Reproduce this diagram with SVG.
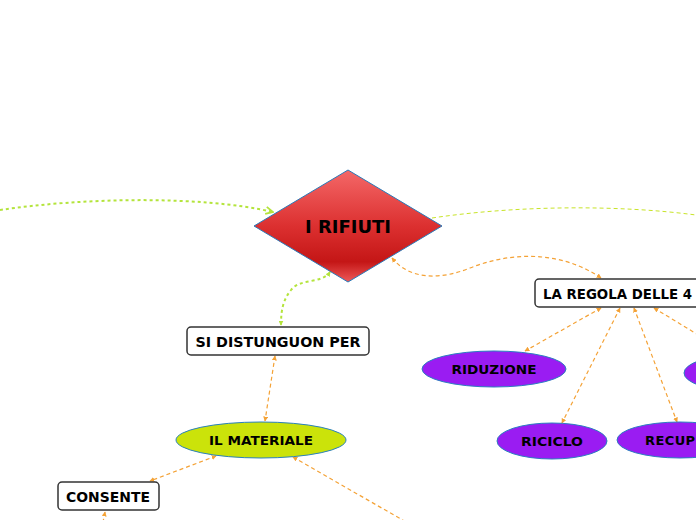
<svg xmlns="http://www.w3.org/2000/svg" width="696" height="520" viewBox="0 0 696 520">
<style>
.lbl{font-family:"DejaVu Sans","Verdana",sans-serif;font-weight:bold;fill:#000;text-anchor:middle}
.box{fill:#fff;stroke:#333;stroke-width:1.5}
.purple{fill:#9a1cf2;stroke:#2a80c0;stroke-width:1}
.og{fill:none;stroke:#f4a236;stroke-width:1.2;stroke-dasharray:4,3}
.gr{fill:none;stroke:#b4e43c;stroke-width:2;stroke-dasharray:3,3}
.grt{fill:none;stroke:#c8e428;stroke-width:1;stroke-dasharray:4,3}
</style>
<defs>
<linearGradient id="red" x1="0" y1="0" x2="0" y2="1">
<stop offset="0" stop-color="#f46868"/>
<stop offset="0.5" stop-color="#dc3030"/>
<stop offset="0.82" stop-color="#c41616"/>
<stop offset="1" stop-color="#ee5a5a"/>
</linearGradient>
<marker id="oa" viewBox="0 0 8 8" refX="7" refY="4" markerWidth="5" markerHeight="5" orient="auto-start-reverse" markerUnits="userSpaceOnUse">
<path d="M0,0 L8,4 L0,8 z" fill="#f4a236"/>
</marker>
<marker id="ga" viewBox="0 0 8 8" refX="7" refY="4" markerWidth="5" markerHeight="5" orient="auto-start-reverse" markerUnits="userSpaceOnUse">
<path d="M0,0 L8,4 L0,8 z" fill="#b4e43c"/>
</marker>
<marker id="gc" viewBox="0 0 10 10" refX="9" refY="5" markerWidth="9" markerHeight="9" orient="auto" markerUnits="userSpaceOnUse">
<path d="M1,1 L9,5 L1,9" fill="none" stroke="#b4e43c" stroke-width="2"/>
</marker>
</defs>
<g id="connectors">
<path class="gr" d="M0,210 C 80,198 200,195 273,212" marker-end="url(#gc)"/>
<path class="grt" d="M432,218 C 520,205 620,205 696,215"/>
<path class="og" d="M392,258 C 410,280 440,280 470,268 C 510,252 560,250 601,278" marker-start="url(#oa)" marker-end="url(#oa)"/>
<path class="gr" d="M330,272 C 322,284 300,278 291,290 C 283,300 281,310 281,325" stroke-width="1.5" marker-start="url(#ga)" marker-end="url(#ga)"/>
<path class="og" d="M601,308 L525,351" marker-start="url(#oa)" marker-end="url(#oa)"/>
<path class="og" d="M620,308 L562,423" marker-start="url(#oa)" marker-end="url(#oa)"/>
<path class="og" d="M634,308 L677,422" marker-start="url(#oa)" marker-end="url(#oa)"/>
<path class="og" d="M654,308 L700,336" marker-start="url(#oa)"/>
<path class="og" d="M275,356 L265,421" marker-start="url(#oa)" marker-end="url(#oa)"/>
<path class="og" d="M216,456 L150,481" marker-start="url(#oa)" marker-end="url(#oa)"/>
<path class="og" d="M105,512 L103,522" marker-start="url(#oa)"/>
<path class="og" d="M293,457 L406,522" marker-start="url(#oa)"/>
</g>
<g id="rifiuti">
<polygon points="348,170 442,226 348,282 254,226" fill="url(#red)" stroke="#2a7ab8" stroke-width="1"/>
<text class="lbl" x="348" y="233" font-size="17.5" textLength="86" lengthAdjust="spacingAndGlyphs">I RIFIUTI</text>
</g>
<g id="si-distunguon">
<rect class="box" x="187" y="327" width="182" height="28" rx="4"/>
<text class="lbl" x="278" y="346.5" font-size="14.5" textLength="165" lengthAdjust="spacingAndGlyphs">SI DISTUNGUON PER</text>
</g>
<g id="regola">
<rect class="box" x="535" y="279" width="180" height="28" rx="4"/>
<text class="lbl" x="543" y="298.5" font-size="14.5" style="text-anchor:start" textLength="149" lengthAdjust="spacingAndGlyphs">LA REGOLA DELLE 4</text>
</g>
<g id="riduzione">
<ellipse class="purple" cx="494" cy="369" rx="72" ry="18"/>
<text class="lbl" x="494" y="374" font-size="13" textLength="85" lengthAdjust="spacingAndGlyphs">RIDUZIONE</text>
</g>
<g id="riciclo">
<ellipse class="purple" cx="552" cy="441" rx="55" ry="18"/>
<text class="lbl" x="552" y="446" font-size="13" textLength="62" lengthAdjust="spacingAndGlyphs">RICICLO</text>
</g>
<g id="recupero">
<ellipse class="purple" cx="680" cy="440" rx="63" ry="18"/>
<text class="lbl" x="645" y="445" font-size="13" style="text-anchor:start" letter-spacing="0.4">RECUPERO</text>
</g>
<g id="riuso">
<ellipse class="purple" cx="740" cy="373" rx="56" ry="18"/>
</g>
<g id="materiale">
<ellipse cx="261" cy="440" rx="85" ry="18" fill="#cbe30a" stroke="#2a80c0" stroke-width="1"/>
<text class="lbl" x="261" y="445" font-size="13" textLength="104" lengthAdjust="spacingAndGlyphs">IL MATERIALE</text>
</g>
<g id="consente">
<rect class="box" x="58" y="482" width="101" height="28" rx="4"/>
<text class="lbl" x="108" y="501.5" font-size="14.5" textLength="84" lengthAdjust="spacingAndGlyphs">CONSENTE</text>
</g>
</svg>
